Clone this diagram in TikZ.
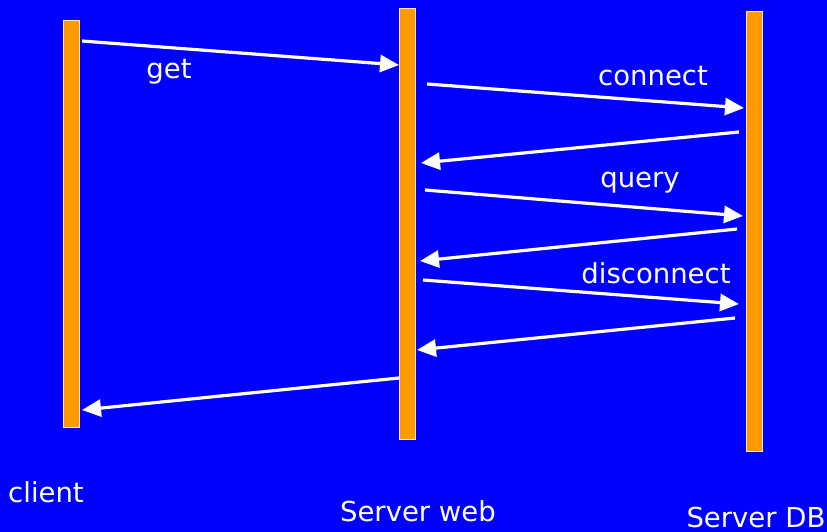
\documentclass[tikz,border=0pt]{standalone}
\usepackage{fontspec}
\setmainfont{DejaVu Sans}
\usetikzlibrary{arrows.meta}
\definecolor{bg}{RGB}{0,0,255}
\definecolor{lifeline}{RGB}{255,153,0}
\begin{document}
\begin{tikzpicture}[x=1pt,y=-1pt,
  lane/.style={draw=white!80!lifeline,line width=0.8pt,fill=lifeline},
  msg/.style={draw=white,line width=3.2pt,-{Triangle[length=19pt,width=17pt]}},
  lbl/.style={text=white,font=\fontsize{27.5}{32}\selectfont,inner sep=0pt}]
\fill[bg] (0,0) rectangle (827,532);
\useasboundingbox (0,0) rectangle (827,532);
% lifelines
\node[lane,minimum width=16pt,minimum height=407pt,inner sep=0pt] (client) at (71.5,223.5) {};
\node[lane,minimum width=16pt,minimum height=431pt,inner sep=0pt] (web) at (407,223.5) {};
\node[lane,minimum width=16pt,minimum height=440pt,inner sep=0pt] (db) at (754,231) {};
% message end points
\coordinate (m1s) at (82,41);   \coordinate (m1e) at (399,65);
\coordinate (m2s) at (427,84);  \coordinate (m2e) at (744,108);
\coordinate (m3s) at (739,132); \coordinate (m3e) at (421,163);
\coordinate (m4s) at (425,190); \coordinate (m4e) at (743,216);
\coordinate (m5s) at (737,229); \coordinate (m5e) at (420,261);
\coordinate (m6s) at (423,280); \coordinate (m6e) at (739,304);
\coordinate (m7s) at (735,318); \coordinate (m7e) at (417,350);
\coordinate (m8s) at (399,378); \coordinate (m8e) at (82,410);
% messages
\draw[msg] (m1s) -- (m1e);
\draw[msg] (m2s) -- (m2e);
\draw[msg] (m3s) -- (m3e);
\draw[msg] (m4s) -- (m4e);
\draw[msg] (m5s) -- (m5e);
\draw[msg] (m6s) -- (m6e);
\draw[msg] (m7s) -- (m7e);
\draw[msg] (m8s) -- (m8e);
% message labels
\node[lbl] (lget) at (169,72) {get};
\node[lbl] (lconn) at (653,76) {connect};
\node[lbl] (lquery) at (640,183) {query};
\node[lbl] (ldisc) at (656,273) {disconnect};
% lifeline names
\node[lbl] (nclient) at (46,492) {client};
\node[lbl] (nweb) at (418,511) {Server web};
\node[lbl] (ndb) at (756,517) {Server DB};
\end{tikzpicture}
\end{document}
